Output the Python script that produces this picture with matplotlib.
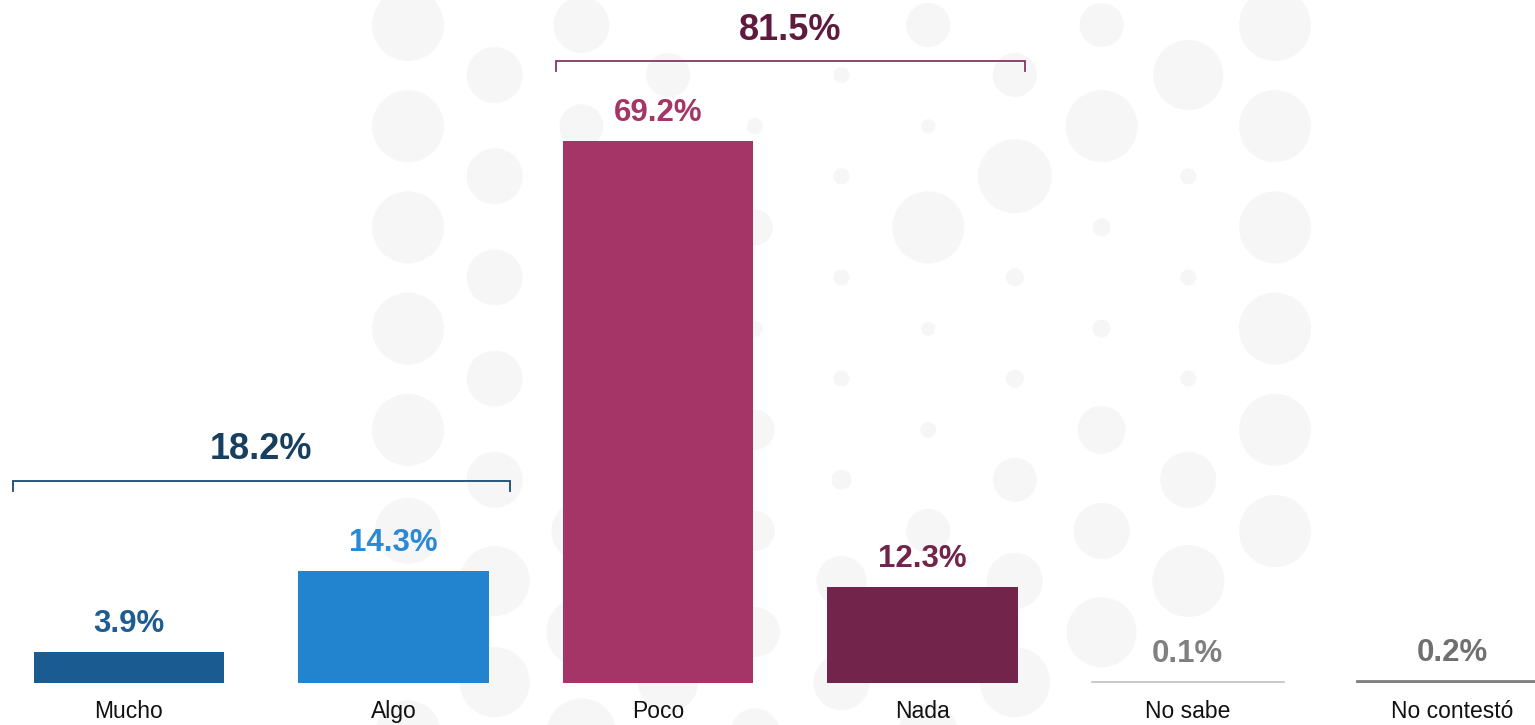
import matplotlib
matplotlib.use("Agg")
import matplotlib.pyplot as plt
from matplotlib.patches import Circle

plt.rcParams['font.family'] = ['Liberation Sans', 'DejaVu Sans']

categories = ["Mucho", "Algo", "Poco", "Nada", "No sabe", "No contestó"]
values = [3.9, 14.3, 69.2, 12.3, 0.1, 0.2]
value_labels = ["3.9%", "14.3%", "69.2%", "12.3%", "0.1%", "0.2%"]
bar_colors = ["#1a5c91", "#2283cf", "#a53467", "#72244b", "#c8c8c8", "#808080"]
label_colors = ["#1f5c91", "#2a8ad4", "#a53467", "#72244b", "#808080", "#707070"]

groups = [[0, 1], [2, 3]]
group_labels = ["18.2%", "81.5%"]
group_colors = ["#163f60", "#5e1b3d"]
bracket_colors = ["#1b4a6e", "#8a3563"]

# decorative background dot pattern (radii in px per column, rows top to bottom)
dot_radii = [
    [36, 36, 36, 36, 36, 33, 33, 33],
    [28, 28, 28, 28, 28, 35, 35],
    [28, 22, 15, 15, 15, 30, 35, 35],
    [22, 30, 30, 30, 30, 30, 30],
    [6, 8, 18, 8, 20, 20, 25, 25],
    [8, 8, 8, 8, 10, 25, 28],
    [22, 7, 36, 7, 8, 22, 30, 30],
    [22, 37, 9, 9, 22, 28, 35],
    [22, 36, 9, 9, 24, 28, 35, 0],
    [35, 8, 8, 8, 28, 36, 0],
    [36, 36, 36, 36, 36, 36, 0, 0],
]

W, H = 1535, 725
fig = plt.figure(figsize=(W / 100, H / 100), dpi=100)

# background pattern
bg = fig.add_axes([0, 0, 1, 1], zorder=0)
bg.set_xlim(0, W)
bg.set_ylim(H, 0)
bg.axis("off")
col_x0, col_dx, row_dy = 408, 86.7, 101.2
for k, col in enumerate(dot_radii):
    cx = col_x0 + k * col_dx
    y0 = 25 if k % 2 == 0 else 75
    for j, r in enumerate(col):
        if r > 0:
            bg.add_patch(Circle((cx, y0 + j * row_dy), r, facecolor="#f6f6f6",
                                edgecolor="none"))

base_px = 683
ax = fig.add_axes([0, (H - base_px) / H, 1, base_px / H], zorder=1)
ax.patch.set_alpha(0)
ax.set_xlim(-0.4875, 5.314)
ax.set_ylim(0, 87.2)
ax.axis("off")

x = list(range(len(categories)))
ax.bar(x, values, width=0.72, color=bar_colors, edgecolor=bar_colors,
       linewidth=[0, 0, 0, 0, 2, 2])

for i, (v, lab) in enumerate(zip(values, value_labels)):
    ax.annotate(lab, (i, v), xytext=(0, 14.5), textcoords="offset points",
                ha="center", va="baseline", fontsize=22.5, fontweight="bold",
                color=label_colors[i])

for i, c in enumerate(categories):
    ax.annotate(c, (i, 0), xytext=(0, -20.5), textcoords="offset points",
                ha="center", va="center", fontsize=16.5, color="#111111",
                annotation_clip=False)

# brackets
bracket_ext = [0.44, 0.386]
bracket_off = [11.5, 10.2]
tick = 1.3
for g, lab, gc, bc, ext, off in zip(groups, group_labels, group_colors,
                                      bracket_colors, bracket_ext, bracket_off):
    x0 = min(g) - ext
    x1 = max(g) + ext
    yb = max(values[k] for k in g) + off
    ax.plot([x0, x0, x1, x1], [yb - tick, yb, yb, yb - tick], color=bc, lw=1.3,
            solid_joinstyle="miter", clip_on=False)
    ax.annotate(lab, ((x0 + x1) / 2, yb), xytext=(0, 15.5), textcoords="offset points",
                ha="center", va="baseline", fontsize=26, fontweight="bold", color=gc)

fig.savefig("out.png", dpi=100, facecolor="white")
